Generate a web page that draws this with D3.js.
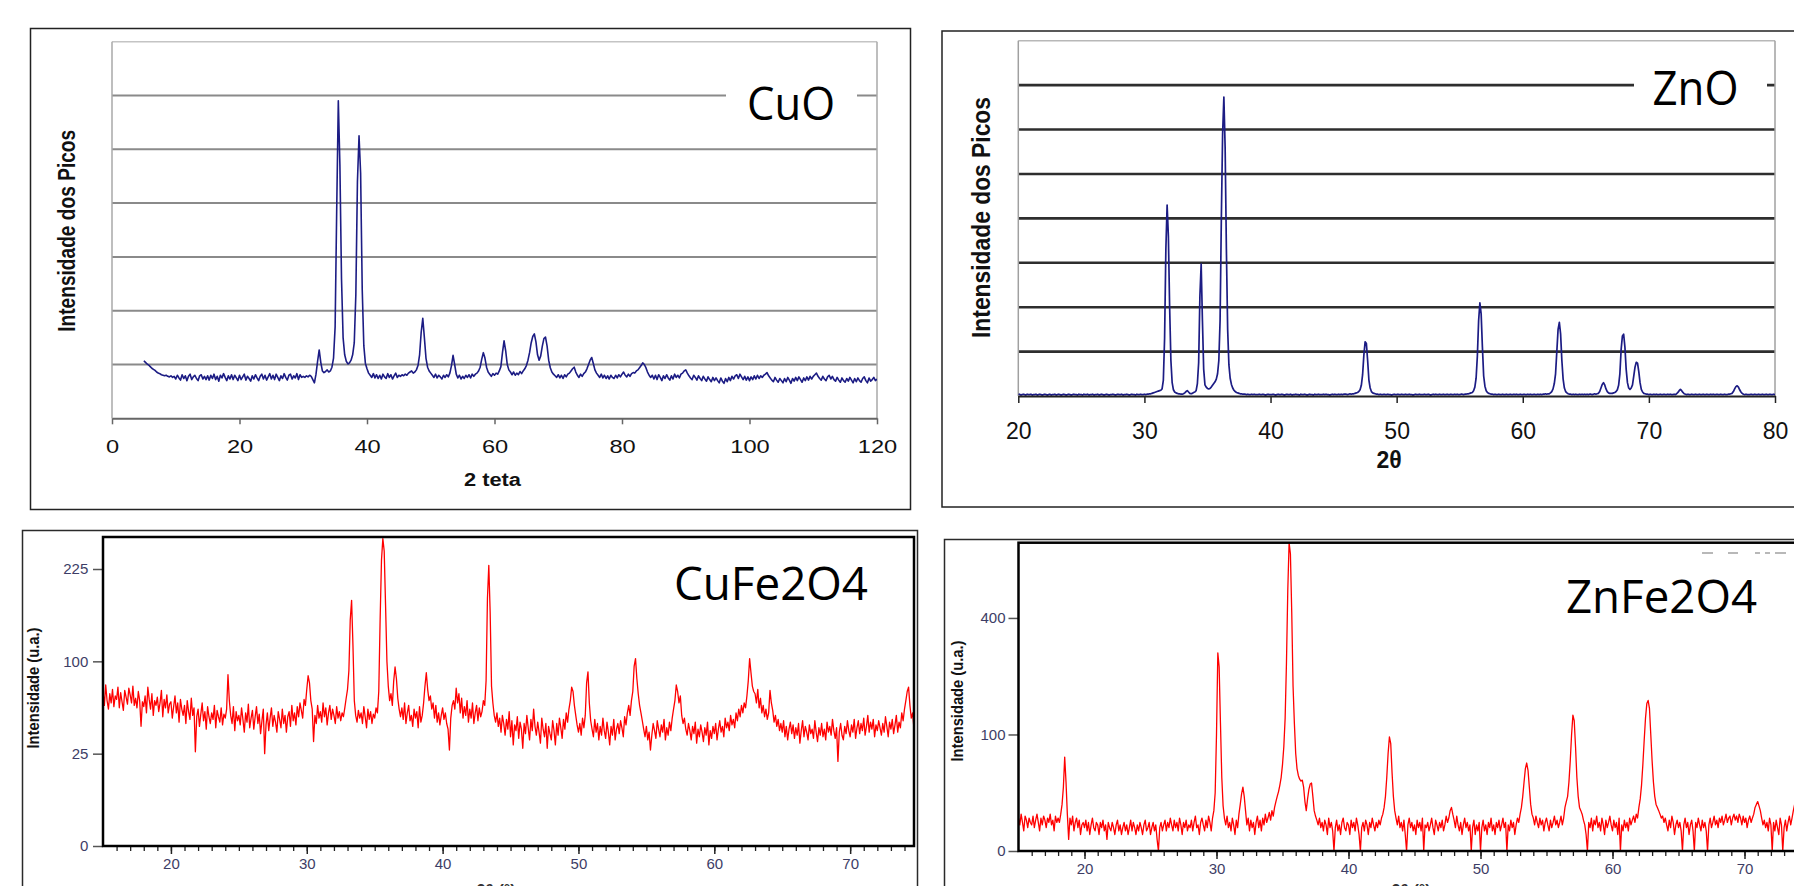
<!DOCTYPE html>
<html>
<head>
<meta charset="utf-8">
<script src="https://cdn.jsdelivr.net/npm/d3@7"></script>
<style>
  body { margin: 0; background: #fff; }
  svg { display: block; }
</style>
</head>
<body>
<svg id="fig" width="1794" height="886"></svg>
<script>
// ---- CuO (2 teta 5..120, step 0.25, arbitrary units: 100 per gridline)
const cuoStart = 5, cuoStep = 0.25;
const cuoIntensity = [
  107,104,101,99,96,93,91,89,86,84,83,81,80,79,80,78,77,79,76,78,
  73,80,75,71,81,74,79,70,78,82,72,77,80,74,70,79,81,73,78,72,
  79,71,80,74,82,72,78,69,80,75,83,76,70,79,73,81,72,80,75,70,
  80,72,77,82,71,78,74,69,79,73,81,75,70,78,82,73,80,71,77,83,
  73,80,72,82,76,70,79,74,83,76,71,80,82,73,79,75,83,72,81,76,
  78,76,79,77,80,78,72,66,82,106,127,104,88,85,87,90,86,88,95,112,
  170,390,590,470,260,150,118,106,101,103,108,118,140,230,440,525,455,240,135,102,
  92,84,80,76,83,75,81,74,80,73,82,77,74,83,76,81,73,79,84,76,
  80,78,81,79,82,80,84,86,88,84,86,90,98,118,160,186,150,112,95,88,
  84,80,76,82,75,80,77,73,80,76,81,77,84,98,117,100,82,75,80,73,
  78,74,80,76,81,75,82,78,82,84,88,95,110,122,112,95,86,82,78,83,
  80,84,82,88,96,122,144,126,100,90,86,81,86,80,84,81,87,83,88,92,
  98,108,122,140,152,157,142,118,108,116,134,148,151,134,108,94,86,82,79,76,
  81,75,80,74,81,77,82,84,88,92,95,86,80,76,82,78,83,86,92,100,
  108,113,102,90,84,80,76,82,75,80,74,79,73,80,76,74,80,75,81,77,
  82,86,80,77,82,78,83,85,84,88,90,94,98,103,100,94,86,80,76,80,
  73,80,72,81,76,70,79,74,81,75,71,79,73,82,76,80,75,82,84,88,
  90,84,79,75,72,80,76,71,79,74,70,78,73,69,77,72,68,76,70,75,
  70,66,75,69,65,74,68,76,70,78,73,79,81,74,82,77,72,78,71,77,
  70,77,72,79,73,80,74,79,76,80,82,85,79,75,71,68,76,71,67,74,
  70,66,74,68,76,71,65,74,69,76,70,77,72,67,75,70,77,71,78,73,
  78,81,84,78,74,71,78,73,70,77,80,73,78,72,69,76,71,67,75,70,
  67,74,69,76,71,66,74,68,75,70,67,74,77,70,66,75,69,72,76,70,
  73
];
const cuoTicks = [0, 20, 40, 60, 80, 100, 120];
const cuoGrid = [100, 200, 300, 400, 500, 600, 700];

// ---- ZnO (2θ 20..80, step 0.1, arbitrary units: 100 per gridline)
const znoStart = 20, znoStep = 0.1;
const znoIntensity = [
  3,4,2,3,4,3,2,4,3,3, 4,2,3,3,4,2,3,4,3,2, 3,4,3,2,3,4,2,3,3,4, 2,3,4,3,2,3,4,3,2,3,
  4,3,2,3,4,3,3,2,4,3, 3,2,4,3,3,4,2,3,3,4, 2,3,3,4,2,3,4,3,2,3, 4,3,2,3,3,4,3,2,3,4,
  3,3,4,2,3,3,4,3,2,3, 4,3,3,2,4,3,3,4,3,3,
  4,3,4,4,5,5,6,7,8,9, 10,11,12,13,16,35,130,330,430,360,
  200,80,30,14,9,7,6,5,5,4, 4,5,7,10,12,9,6,5,6,8,
  9,12,28,75,225,297,170,60,25,20, 17,16,17,20,24,28,32,38,50,80,
  170,400,590,673,560,330,150,70,40,26, 18,13,10,8,7,6,5,5,4,4,
  4,3,4,3,3,4,3,4,3,3, 3,4,3,3,4,3,2,3,4,3, 3,3,4,3,2,3,4,3,3,4, 3,2,3,4,3,3,4,2,3,3,
  4,3,3,2,4,3,3,4,3,2, 3,4,3,3,2,4,3,3,4,3, 3,3,4,3,4,3,3,2,3,4, 3,4,3,3,4,3,4,3,4,4,
  4,3,4,5,4,5,5,6,7,8, 10,14,24,48,92,122,118,80,36,18, 10,7,6,5,4,4,3,4,3,3,
  4,3,3,4,3,3,2,3,4,3, 3,4,3,3,4,3,3,4,3,3, 4,3,3,2,3,4,3,3,4,3, 3,3,4,3,3,4,3,2,3,4,
  3,4,3,3,4,3,3,4,3,3, 4,3,3,4,3,3,4,3,4,3, 3,4,4,3,4,4,5,5,6,7,
  8,12,20,40,90,170,210,185,110,45, 22,12,8,6,5,4,4,3,4,3,
  3,4,3,3,4,3,3,4,3,3, 4,3,3,4,3,4,3,3,4,3, 3,4,3,3,4,3,4,3,3,4, 3,3,4,3,4,3,4,4,5,4,
  5,5,7,10,16,28,50,100,150,166, 140,80,38,18,10,7,5,4,4,3,
  4,3,4,3,3,4,3,4,3,4, 3,4,3,4,4,3,4,5,4,5, 6,10,18,26,30,25,16,10,7,6,
  6,6,7,8,10,14,24,50,105,135, 139,110,60,30,18,15,18,25,45,65, 76,74,55,30,15,9,6,5,4,4,
  3,4,3,3,4,3,4,3,3,4, 3,3,4,3,3,4,3,4,3,3, 4,3,5,8,12,15,12,8,5,4, 3,4,3,3,4,3,3,4,3,3,
  4,3,3,4,3,3,4,3,3,4, 3,4,3,3,4,3,3,4,3,3, 4,3,3,4,4,5,6,10,16,21, 23,20,14,9,6,4,3,4,3,3,
  3,4,3,3,4,3,3,4,3,3, 4,3,3,4,3,3,4,3,3,4,
  3
];
const znoTicks = [20, 30, 40, 50, 60, 70, 80];
const znoGrid = [100, 200, 300, 400, 500, 600, 700, 800];

// ---- CuFe2O4 (2θ 15..74.7, step 0.1, counts on a square-root axis)
const cufeStart = 15, cufeStep = 0.1;
const cufeIntensity = [
  70,58,76,62,55,68,60,72,57,66, 63,74,56,69,61,54,71,65,59,73, 67,60,75,58,64,56,70,62,42,61,
  57,66,52,74,63,55,68,50,62,58, 65,53,60,71,49,63,56,67,52,59, 61,48,57,66,52,60,45,63,55,50,
  58,44,62,53,47,64,50,56,26,49, 55,42,51,60,46,53,40,57,49,44, 52,47,58,41,54,49,45,56,43,51,
  48,55,86,62,50,44,57,39,53,46, 50,43,56,47,38,52,45,59,41,48, 54,40,49,57,44,51,37,46,55,25,
  43,52,39,48,56,42,50,45,38,53, 47,41,55,44,50,38,49,53,42,58, 46,52,43,57,49,60,54,48,63,58,
  72,85,78,62,55,32,50,44,58,48, 53,45,60,49,56,43,52,58,47,55, 50,44,57,48,53,46,52,49,56,64,
  72,90,150,177,118,62,50,45,54,48, 52,44,57,49,41,55,47,53,44,51,
  48,56,52,70,150,240,277,255,170,100, 75,62,68,58,80,94,82,64,55,49,
  56,47,60,44,52,58,46,50,42,55, 48,53,41,57,45,50,60,75,88,72, 62,66,55,60,48,58,45,52,43,50,
  56,47,52,44,40,27,48,58,62,55, 73,60,68,52,64,48,57,50,62,45, 55,48,60,44,52,58,46,56,49,53,
  62,58,80,180,231,160,75,60,50,45, 52,42,48,38,50,44,36,47,40,53, 35,46,30,43,39,49,34,45,40,28,
  44,37,50,41,33,47,39,55,42,36, 45,38,31,48,40,35,44,28,42,37, 33,46,39,30,44,36,48,41,34,47,
  40,52,45,55,62,74,70,58,50,43, 38,44,36,48,41,50,78,89,60,46, 40,35,47,38,44,33,42,36,48,39,
  34,45,38,30,42,36,47,33,40,44, 37,46,41,35,49,43,52,58,50,62, 70,95,103,82,68,58,52,46,40,35,
  42,33,38,27,36,44,39,34,46,40, 35,43,38,47,33,41,36,45,39,48, 55,62,76,70,60,66,50,44,48,40,
  36,44,39,33,42,37,45,31,40,35, 43,38,32,41,36,45,30,39,34,42, 37,44,33,40,46,38,42,35,48,41,
  45,39,50,43,47,41,52,46,55,49, 58,52,60,56,66,80,103,88,75,70, 68,60,72,56,64,52,58,49,55,47,
  52,71,60,54,45,50,42,47,39,44, 38,46,35,42,33,40,45,37,43,34, 41,36,44,31,39,46,35,42,38,33,
  43,37,40,34,46,38,32,41,36,44, 35,40,33,45,38,42,36,47,39,34, 41,21,38,44,36,33,42,37,46,39,
  35,43,38,47,34,41,46,37,44,39, 48,36,42,50,38,45,40,47,35,43, 39,46,41,36,44,38,49,42,35,45,
  40,47,37,43,50,38,45,41,52,46, 55,62,70,74,58,48,52,40
];
const cufeTicks = [20, 30, 40, 50, 60, 70];
const cufeYTicks = [0, 25, 100, 225];

// ---- ZnFe2O4 (2θ 15..75, step 0.1, counts on a square-root axis)
const znfeStart = 15, znfeStep = 0.1;
const znfeIntensity = [
  8,5,10,6,3,9,7,4,8,6, 5,9,4,7,10,6,3,8,5,9, 7,4,8,6,10,5,7,3,9,6,
  8,6,10,16,30,65,35,10,1,8, 5,9,3,6,8,4,7,2,5,6, 4,7,3,6,2,5,8,4,3,6,
  5,2,6,4,7,3,5,1,6,4, 3,6,4,2,5,7,3,5,2,4, 6,3,5,2,4,7,3,6,4,2,
  5,3,6,4,2,5,7,3,4,6, 2,4,6,3,5,1,0,4,6,3, 5,7,3,6,4,8,5,3,7,4,
  6,3,8,5,2,6,4,7,3,5, 4,7,3,6,9,4,5,2,6,8, 5,3,7,4,9,6,3,8,12,25,
  100,289,250,120,40,15,8,5,9,4, 6,3,8,5,2,7,4,10,16,24, 30,22,12,5,8,3,7,4,6,2,
  6,9,4,7,3,8,5,10,6,8, 11,7,12,9,14,18,22,26,32,40, 55,80,130,260,500,700,650,420,200,120,
  70,50,42,38,36,37,30,18,12,20, 28,33,34,22,12,9,7,5,8,4, 6,3,7,5,2,8,4,6,3,0,
  4,7,3,5,2,6,8,4,3,6, 5,2,7,4,6,3,8,5,2,0, 4,6,3,7,5,2,6,4,8,5,
  3,6,4,7,5,8,10,14,22,40, 70,96,85,45,22,12,8,5,9,4, 6,3,7,2,0,5,8,4,6,3,
  5,2,7,4,6,3,8,0,5,4, 6,3,5,8,4,2,7,5,3,6, 4,7,3,5,9,6,8,12,14,10,
  7,4,9,5,3,6,2,5,8,4, 6,3,5,0,4,7,2,5,3,6, 0,4,7,3,5,2,6,4,8,3,
  5,2,6,4,7,3,5,8,4,6, 0,5,3,7,4,6,2,5,8,6, 10,14,22,35,50,57,48,30,16,10,
  8,5,9,6,4,8,5,7,3,6, 8,5,3,7,4,6,9,5,7,4, 6,9,5,8,14,18,22,35,60,100,
  136,125,80,40,22,14,12,10,7,5, 2,0,6,4,8,3,7,5,9,4, 6,3,8,5,2,7,4,6,9,5,
  3,7,4,6,2,8,0,5,3,7, 4,6,3,8,5,7,9,6,10,8, 14,20,32,55,90,130,160,167,150,100,
  60,35,22,16,14,12,10,8,9,6, 8,5,3,7,4,9,6,2,5,7, 4,6,3,0,5,8,4,6,2,5,
  7,3,0,6,4,8,5,3,7,4, 6,3,0,5,8,4,6,9,5,7, 4,8,6,9,5,7,10,6,8,9,
  5,8,10,7,9,6,10,8,5,9, 6,8,4,7,9,6,8,10,14,16, 18,15,12,8,5,7,4,6,3,8,
  5,0,6,3,7,4,2,8,5,0, 4,7,3,6,9,5,8,12,16,18, 20,16,12,9,7,10,6,8,5,7,
  6
];
const znfeTicks = [20, 30, 40, 50, 60, 70];
const znfeYTicks = [0, 100, 400];

const svg = d3.select('#fig');
const sans = "'Liberation Sans', Arial, sans-serif";
const narrow = "'Liberation Sans Narrow', 'Liberation Sans', Arial, sans-serif";
const calibri = "'Open Sans', 'Noto Sans', sans-serif";

function series(start, step, vals) {
  return vals.map((v, i) => [start + i * step, v]);
}

function clip(id, x, y, w, h) {
  svg.append('clipPath').attr('id', id)
    .append('rect').attr('x', x).attr('y', y).attr('width', w).attr('height', h);
}

function box(x, y, w, h, color) {
  svg.append('rect').attr('x', x).attr('y', y).attr('width', w).attr('height', h)
    .attr('fill', 'none').attr('stroke', color).attr('stroke-width', 1.5);
}

function rotatedTitle(text, cx, cy, size, weight, family, len, sx) {
  svg.append('text')
    .attr('transform', `translate(${cx},${cy}) scale(${sx},1) rotate(-90)`)
    .attr('text-anchor', 'middle').attr('dy', '0.36em')
    .attr('font-family', family).attr('font-size', size).attr('font-weight', weight)
    .attr('textLength', len).attr('lengthAdjust', 'spacingAndGlyphs')
    .attr('fill', '#111').text(text);
}

function bigLabel(text, cx, baseline, size, len) {
  svg.append('text').attr('x', cx).attr('y', baseline)
    .attr('text-anchor', 'middle').attr('font-family', calibri).attr('font-size', size)
    .attr('textLength', len).attr('lengthAdjust', 'spacingAndGlyphs')
    .attr('fill', '#000').text(text);
}

// ================= CuO =================
box(30.5, 28.5, 880, 481, '#222');
const x1 = d3.scaleLinear().domain([0, 120]).range([112, 877]);
const y1 = d3.scaleLinear().domain([0, 700]).range([418.3, 41.7]);

svg.append('g').selectAll('line').data(cuoGrid).join('line')
  .attr('x1', x1(0)).attr('x2', x1(120))
  .attr('y1', d => y1(d)).attr('y2', d => y1(d))
  .attr('stroke', d => d === 700 ? '#c4c4c4' : '#8a8a8a')
  .attr('stroke-width', d => d === 700 ? 1.5 : 2);
[0, 120].forEach(v => {
  svg.append('line').attr('x1', x1(v)).attr('x2', x1(v))
    .attr('y1', y1(700)).attr('y2', y1(0))
    .attr('stroke', '#a8a8a8').attr('stroke-width', 1.5);
});

svg.append('rect').attr('x', 726).attr('y', 72).attr('width', 131).attr('height', 54).attr('fill', '#fff');
bigLabel('CuO', 791, 119.5, 46, 88);

clip('clipCuo', x1(0), y1(700), x1(120) - x1(0), y1(0) - y1(700));
svg.append('path')
  .datum(series(cuoStart, cuoStep, cuoIntensity))
  .attr('clip-path', 'url(#clipCuo)')
  .attr('d', d3.line().x(d => x1(d[0])).y(d => y1(d[1])))
  .attr('fill', 'none').attr('stroke', '#1c1c84').attr('stroke-width', 1.6)
  .attr('stroke-linejoin', 'round');

const ax1 = svg.append('g').attr('transform', `translate(0,${y1(0)})`)
  .call(d3.axisBottom(x1).tickValues(cuoTicks).tickSize(6).tickSizeOuter(0).tickPadding(16.6));
ax1.select('.domain').attr('stroke', '#666').attr('stroke-width', 2);
ax1.selectAll('.tick line').attr('stroke', '#666').attr('stroke-width', 1.5);
ax1.selectAll('.tick text')
  .attr('font-family', sans).attr('font-size', 17.5).attr('fill', '#111')
  .style('transform-box', 'fill-box').style('transform-origin', 'center')
  .style('transform', 'scaleX(1.35)');

svg.append('text').attr('x', 492.5).attr('y', 486)
  .attr('text-anchor', 'middle').attr('font-family', sans).attr('font-size', 18)
  .attr('font-weight', 'bold').attr('textLength', 57).attr('lengthAdjust', 'spacingAndGlyphs')
  .attr('fill', '#111').text('2 teta');
rotatedTitle('Intensidade dos Picos', 66.6, 230.8, 19, 'bold', sans, 202, 1.3);

// ================= ZnO =================
box(942, 31, 900, 476, '#222');
const x2 = d3.scaleLinear().domain([20, 80]).range([1018.3, 1775]);
const y2 = d3.scaleLinear().domain([0, 800]).range([396, 40.7]);

svg.append('g').selectAll('line').data(znoGrid).join('line')
  .attr('x1', x2(20)).attr('x2', x2(80))
  .attr('y1', d => y2(d)).attr('y2', d => y2(d))
  .attr('stroke', d => d === 800 ? '#b8b8b8' : '#2e2e2e')
  .attr('stroke-width', d => d === 800 ? 1.5 : 2.6);
[20, 80].forEach(v => {
  svg.append('line').attr('x1', x2(v)).attr('x2', x2(v))
    .attr('y1', y2(800)).attr('y2', y2(0))
    .attr('stroke', '#a0a0a0').attr('stroke-width', 1.5);
});

svg.append('rect').attr('x', 1634).attr('y', 60).attr('width', 133).attr('height', 54).attr('fill', '#fff');
bigLabel('ZnO', 1695.5, 105, 47, 86);

clip('clipZno', x2(20), y2(800), x2(80) - x2(20), y2(0) - y2(800));
svg.append('path')
  .datum(series(znoStart, znoStep, znoIntensity))
  .attr('clip-path', 'url(#clipZno)')
  .attr('d', d3.line().x(d => x2(d[0])).y(d => y2(d[1])))
  .attr('fill', 'none').attr('stroke', '#1c1c84').attr('stroke-width', 1.7)
  .attr('stroke-linejoin', 'round');

const ax2 = svg.append('g').attr('transform', `translate(0,${y2(0)})`)
  .call(d3.axisBottom(x2).tickValues(znoTicks).tickSize(7).tickSizeOuter(0).tickPadding(19.7));
ax2.select('.domain').attr('stroke', '#222').attr('stroke-width', 2.2);
ax2.selectAll('.tick line').attr('stroke', '#222').attr('stroke-width', 1.5);
ax2.selectAll('.tick text').attr('font-family', sans).attr('font-size', 23).attr('fill', '#111');

svg.append('text').attr('x', 1389).attr('y', 468)
  .attr('text-anchor', 'middle').attr('font-family', sans).attr('font-size', 23)
  .attr('font-weight', 'bold').attr('fill', '#111').text('2θ');
rotatedTitle('Intensidade dos Picos', 980.2, 217.5, 22.9, 'bold', sans, 241, 1.15);

// ================= red panels (square-root intensity axis) =================
function xrdPanel(opt) {
  box(opt.box[0], opt.box[1], opt.box[2], opt.box[3], '#2a2a2a');
  const x = d3.scaleLinear().domain(opt.xDomain).range([opt.left, opt.right]);
  const y = d3.scaleSqrt().domain(opt.yDomain).range([opt.bottom, opt.top]);

  clip(opt.id, opt.left, opt.top, opt.right - opt.left, opt.bottom - opt.top);
  svg.append('path')
    .datum(series(opt.start, opt.step, opt.values))
    .attr('clip-path', `url(#${opt.id})`)
    .attr('d', d3.line().x(d => x(d[0])).y(d => y(d[1])))
    .attr('fill', 'none').attr('stroke', '#ff0000').attr('stroke-width', 1.3)
    .attr('stroke-linejoin', 'round');

  // minor ticks every degree
  const minor = svg.append('g').attr('transform', `translate(0,${opt.bottom})`)
    .call(d3.axisBottom(x).tickValues(d3.range(16, Math.floor(opt.xDomain[1]) + 1))
      .tickSize(5).tickSizeOuter(0).tickFormat(''));
  minor.select('.domain').remove();
  minor.selectAll('.tick line').attr('stroke', '#222').attr('stroke-width', 1.3);

  const bx = svg.append('g').attr('transform', `translate(0,${opt.bottom})`)
    .call(d3.axisBottom(x).tickValues(opt.xTicks).tickSize(8).tickSizeOuter(0).tickPadding(4));
  bx.select('.domain').remove();
  bx.selectAll('.tick line').attr('stroke', '#222').attr('stroke-width', 1.5);
  bx.selectAll('.tick text').attr('font-family', sans).attr('font-size', 15).attr('fill', '#3d3d66');

  const ly = svg.append('g').attr('transform', `translate(${opt.left},0)`)
    .call(d3.axisLeft(y).tickValues(opt.yTicks).tickSize(10).tickSizeOuter(0).tickPadding(opt.yPad));
  ly.select('.domain').remove();
  ly.selectAll('.tick line').attr('stroke', '#555').attr('stroke-width', 1.5);
  ly.selectAll('.tick text').attr('font-family', sans).attr('font-size', 15).attr('fill', '#3d3d66');

  svg.append('rect').attr('x', opt.left).attr('y', opt.top)
    .attr('width', opt.right - opt.left).attr('height', opt.bottom - opt.top)
    .attr('fill', 'none').attr('stroke', '#000').attr('stroke-width', 2.5);

  rotatedTitle('Intensidade (u.a.)', opt.yTitle[0], opt.yTitle[1], 16.5, 'bold', narrow, 121, 1);
  // axis title lies mostly below the page edge, as in the source picture
  svg.append('text').attr('x', opt.xTitle).attr('y', 896)
    .attr('text-anchor', 'middle').attr('font-family', narrow).attr('font-size', 16)
    .attr('font-weight', 'bold').attr('fill', '#333').text('2θ (°)');
  bigLabel(opt.name, opt.label[0], opt.label[1], 45, opt.label[2]);
}

xrdPanel({
  id: 'clipCufe', name: 'CuFe2O4', box: [22.5, 530.5, 895, 400],
  left: 103, right: 914, top: 537, bottom: 846,
  xDomain: [15, 74.7], yDomain: [0, 280],
  start: cufeStart, step: cufeStep, values: cufeIntensity,
  xTicks: cufeTicks, yTicks: cufeYTicks, yPad: 4.7,
  yTitle: [33.3, 688], xTitle: 496, label: [771, 600, 194]
});

xrdPanel({
  id: 'clipZnfe', name: 'ZnFe2O4', box: [944.5, 539.5, 900, 400],
  left: 1018.5, right: 1810.5, top: 542.7, bottom: 851,
  xDomain: [15, 75], yDomain: [0, 700],
  start: znfeStart, step: znfeStep, values: znfeIntensity,
  xTicks: znfeTicks, yTicks: znfeYTicks, yPad: 3,
  yTitle: [957, 701], xTitle: 1411, label: [1661.5, 613.3, 191]
});

// faint cut-off legend marks, top right of ZnFe2O4 panel
svg.append('line').attr('x1', 1702).attr('x2', 1794).attr('y1', 553).attr('y2', 553)
  .attr('stroke', '#b8b8b8').attr('stroke-width', 2).attr('stroke-dasharray', '11,15,10,17,5,5,5,5');
</script>
</body>
</html>
